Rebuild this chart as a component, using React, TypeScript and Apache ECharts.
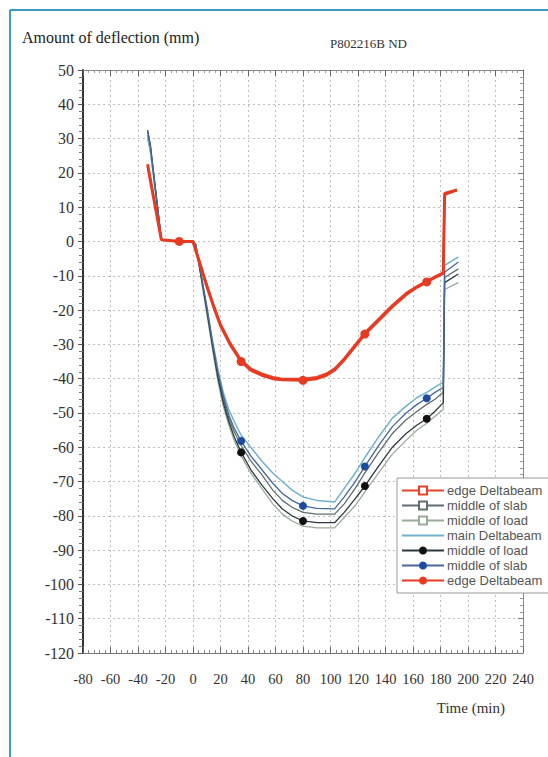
import React, { useEffect, useRef } from "react";
import * as echarts from "echarts";

// ---- data ----
const xTicks = [-80, -60, -40, -20, 0, 20, 40, 60, 80, 100, 120, 140, 160, 180, 200, 220, 240];
const yTicks = [50, 40, 30, 20, 10, 0, -10, -20, -30, -40, -50, -60, -70, -80, -90, -100, -110, -120];

const groupTimes = [-33, -31, -23, -10, 0, 2, 6, 10, 14, 18, 22, 26, 30, 35, 42, 50, 58, 65, 72, 80, 90, 103, 110, 118, 125, 135, 145, 155, 163, 170, 176, 182, 183, 193];
const mainDeltabeam = [30, 27, 0.5, 0, 0, -1, -10, -19, -28.5, -37, -44, -49, -52.5, -56.5, -60, -64, -67.5, -70, -72.5, -74.5, -75.5, -76, -72, -67.5, -63, -57, -51.5, -48, -45.5, -44, -42.5, -41, -7, -4.5];
const slabCircle = [32, 28, 0.5, 0, 0, -1, -10, -19, -29, -38, -45, -50.5, -54.5, -58.2, -62.5, -66.5, -70.5, -73.5, -75.5, -77.1, -77.8, -78, -74.5, -70, -65.6, -59.5, -54, -50, -47.5, -45.7, -44, -42.5, -9, -6];
const slabSquare = [31, 27, 0.5, 0, 0, -1, -10, -19.5, -29.5, -38.5, -46, -51.5, -55.5, -59.5, -64, -68, -72.5, -75.5, -77.5, -79, -79.5, -79.5, -76.5, -72, -67.5, -61.5, -56, -52, -49.5, -47.5, -46, -44, -10.5, -8];
const loadCircle = [32.5, 28, 0.5, 0, 0, -1, -10.5, -20, -30, -39.5, -47, -52.5, -57, -61.5, -66.5, -71, -75, -78, -80, -81.5, -82, -82, -79, -75, -71.3, -65.5, -60, -56, -53.5, -51.7, -49.5, -47, -12, -9.5];
const loadSquare = [30, 26, 0.5, 0, 0, -1, -11, -21, -31, -40.5, -48, -53.5, -58, -62.5, -67.5, -72, -76.5, -79.5, -81.5, -83, -83.5, -83.5, -80.5, -77, -73, -67.5, -62, -58, -55, -53, -51, -49, -14, -12];

const edgeTimes = [-33, -32, -23, -10, 0, 5, 10, 15, 20, 27, 35, 42, 50, 58, 65, 80, 90, 97, 103, 110, 117, 125, 135, 145, 155, 163, 170, 176, 182, 183, 192];
const edgeCircle = [22.5, 20, 0.5, 0, 0, -6.5, -13, -19, -24.5, -30, -35, -37.5, -39, -40, -40.3, -40.5, -40, -39, -37.5, -34.5, -31, -27, -23, -19, -15.5, -13.3, -11.8, -10.5, -9.3, 14, 15];
const edgeSquare = [21, 20.5, 0.5, 0, 0, -6, -12.5, -18.5, -24, -29.5, -34.5, -37, -38.5, -39.5, -40, -40, -39.5, -38.5, -37, -34, -30.5, -26.5, -22.5, -18.5, -15, -13, -11.5, -10.2, -9, 13.5, 15];

const groupMarkerTimes = [35, 80, 125, 170];
const edgeMarkerTimes = [-10, 35, 80, 125, 170];

const seriesNames = [
  "edge Deltabeam",
  "middle of slab",
  "middle of load",
  "main Deltabeam",
  "middle of load ",
  "middle of slab ",
  "edge Deltabeam ",
];

const SERIF = "Liberation Serif";
const SANS = "Liberation Sans";

function withMarkers(ts: number[], vs: number[], markers: number[]) {
  return ts.map((t, i) =>
    markers.includes(t) ? [t, vs[i]] : { value: [t, vs[i]], symbol: "none" }
  );
}
function plain(ts: number[], vs: number[]) {
  return ts.map((t, i) => [t, vs[i]]);
}

export default function App() {
  const ref = useRef<HTMLDivElement>(null);
  useEffect(() => {
    if (!ref.current) return;
    const chart = echarts.init(ref.current, undefined, { renderer: "svg" });
    const splitStyle = { show: true, lineStyle: { color: "#bdbdbd", type: [2, 3] as any, width: 1 } };
    const option: any = {
      animation: false,
      backgroundColor: "#ffffff",
      textStyle: { fontFamily: SERIF },
      grid: { left: 83, right: 25, top: 70, bottom: 104 },
      xAxis: [
        {
          type: "value",
          min: xTicks[0],
          max: xTicks[xTicks.length - 1],
          interval: 20,
          position: "bottom",
          axisLine: { show: true, onZero: false, lineStyle: { color: "#777", width: 1 } },
          axisTick: { show: true, inside: true, length: 6, lineStyle: { color: "#666" } },
          minorTick: { show: true, splitNumber: 5, length: 3, lineStyle: { color: "#888" } },
          axisLabel: { fontFamily: SERIF, fontSize: 14.5, color: "#333", margin: 18 },
          splitLine: splitStyle,
        },
        {
          type: "value",
          min: xTicks[0],
          max: xTicks[xTicks.length - 1],
          interval: 20,
          position: "top",
          axisLine: { show: true, onZero: false, lineStyle: { color: "#888", width: 1 } },
          axisTick: { show: true, inside: true, length: 6, lineStyle: { color: "#666" } },
          minorTick: { show: true, splitNumber: 5, length: 3, lineStyle: { color: "#999" } },
          axisLabel: { show: false },
          splitLine: { show: false },
        },
      ],
      yAxis: [
        {
          type: "value",
          min: yTicks[yTicks.length - 1],
          max: yTicks[0],
          interval: 10,
          position: "left",
          axisLine: { show: true, onZero: false, lineStyle: { color: "#333", width: 2 } },
          axisTick: { show: true, inside: false, length: 5, lineStyle: { color: "#555" } },
          minorTick: { show: true, splitNumber: 5, length: 4, lineStyle: { color: "#777" } },
          axisLabel: { fontFamily: SERIF, fontSize: 16, color: "#333", margin: 9 },
          splitLine: splitStyle,
        },
        {
          type: "value",
          min: yTicks[yTicks.length - 1],
          max: yTicks[0],
          interval: 10,
          position: "right",
          axisLine: { show: true, onZero: false, lineStyle: { color: "#888", width: 1 } },
          axisTick: { show: true, inside: true, length: 5, lineStyle: { color: "#777" } },
          minorTick: { show: true, splitNumber: 5, length: 3, lineStyle: { color: "#999" } },
          axisLabel: { show: false },
          splitLine: { show: false },
        },
      ],
      legend: {
        show: true,
        orient: "vertical",
        left: 397,
        top: 478,
        padding: [6, 8, 6, 4],
        itemGap: 2,
        itemWidth: 42,
        itemHeight: 10,
        backgroundColor: "#ffffff",
        borderColor: "#999",
        borderWidth: 1,
        borderRadius: 0,
        selectedMode: false,
        textStyle: { fontFamily: SANS, fontSize: 13, color: "#555", lineHeight: 12, padding: [0, 0, 0, -2] },
        data: [
          seriesNames[0],
          seriesNames[1],
          seriesNames[2],
          { name: seriesNames[3], itemStyle: { opacity: 0 } },
          seriesNames[4],
          seriesNames[5],
          seriesNames[6],
        ],
      },
      graphic: [
        { type: "line", shape: { x1: 10, y1: 10, x2: 548, y2: 10 }, style: { stroke: "#3a9cc0", lineWidth: 2 } },
        { type: "line", shape: { x1: 10, y1: 10, x2: 10, y2: 757 }, style: { stroke: "#3a9cc0", lineWidth: 2 } },
        {
          type: "text",
          left: 22,
          top: 29,
          style: { text: "Amount of deflection (mm)", fontFamily: SERIF, fontSize: 16, fill: "#222" },
        },
        {
          type: "text",
          left: 330,
          top: 37,
          style: { text: "P802216B ND", fontFamily: SERIF, fontSize: 13, fill: "#333" },
        },
        {
          type: "text",
          right: 43,
          top: 700,
          style: { text: "Time (min)", fontFamily: SERIF, fontSize: 15, fill: "#333" },
        },
      ],
      series: [
        {
          name: seriesNames[0],
          type: "line",
          data: plain(edgeTimes, edgeSquare),
          symbol: "emptyRect",
          symbolSize: 7,
          showSymbol: false,
          lineStyle: { color: "#e8432a", width: 2 },
          itemStyle: { color: "#e8432a", borderColor: "#f0a090" },
          z: 5,
        },
        {
          name: seriesNames[1],
          type: "line",
          data: plain(groupTimes, slabSquare),
          symbol: "emptyRect",
          symbolSize: 7,
          showSymbol: false,
          lineStyle: { color: "#5f6e70", width: 1.3 },
          itemStyle: { color: "#5f6e70", borderColor: "#8a9595" },
          z: 3,
        },
        {
          name: seriesNames[2],
          type: "line",
          data: plain(groupTimes, loadSquare),
          symbol: "emptyRect",
          symbolSize: 7,
          showSymbol: false,
          lineStyle: { color: "#9aaa98", width: 1.3 },
          itemStyle: { color: "#9aaa98", borderColor: "#b5c2b2" },
          z: 3,
        },
        {
          name: seriesNames[3],
          type: "line",
          data: plain(groupTimes, mainDeltabeam),
          symbol: "none",
          lineStyle: { color: "#6fb2cc", width: 1.5 },
          itemStyle: { color: "#6fb2cc" },
          z: 3,
        },
        {
          name: seriesNames[4],
          type: "line",
          data: withMarkers(groupTimes, loadCircle, groupMarkerTimes),
          symbol: "circle",
          symbolSize: 8,
          lineStyle: { color: "#2c3a40", width: 1.3 },
          itemStyle: { color: "#111111" },
          z: 4,
        },
        {
          name: seriesNames[5],
          type: "line",
          data: withMarkers(groupTimes, slabCircle, groupMarkerTimes),
          symbol: "circle",
          symbolSize: 8,
          lineStyle: { color: "#46679a", width: 1.3 },
          itemStyle: { color: "#1e4aa0" },
          z: 4,
        },
        {
          name: seriesNames[6],
          type: "line",
          data: withMarkers(edgeTimes, edgeCircle, edgeMarkerTimes),
          symbol: "circle",
          symbolSize: 9,
          lineStyle: { color: "#e63a22", width: 3 },
          itemStyle: { color: "#e63a22" },
          z: 6,
        },
      ],
    };
    chart.setOption(option);
    return () => chart.dispose();
  }, []);
  return (
    <div
      ref={ref}
      style={{ position: "absolute", left: 0, top: 0, width: 548, height: 757, background: "#fff" }}
    />
  );
}
